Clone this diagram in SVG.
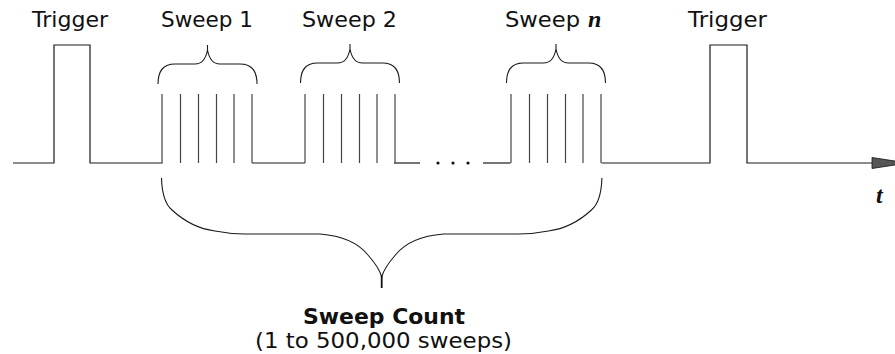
<svg xmlns="http://www.w3.org/2000/svg" xmlns:xlink="http://www.w3.org/1999/xlink" width="895" height="354" viewBox="0 0 895 354">
  <style>
    .wave { fill: none; stroke: #1a1a1a; stroke-width: 1.2; }
    .tick { stroke: #444; stroke-width: 1.2; }
    .brace { fill: none; stroke: #1a1a1a; stroke-width: 1.1; }
    .lbl { font-family: "DejaVu Sans", Verdana, sans-serif; font-size: 20.5px; fill: #111; }
    .bold { font-weight: bold; font-size: 22px; }
    .var { font-family: "Liberation Serif", "Times New Roman", serif; font-style: italic; font-weight: bold; font-size: 24px; fill: #111; }
  </style>
  <defs>
    <path id="smallBrace" d="M0,39 C0,27 4,19 17,19 H37 C44,19 48,13 49.5,5 V0 M99,39 C99,27 95,19 82,19 H62 C55,19 51,13 49.5,5"/>
    <g id="burst">
      <line x1="0" y1="94" x2="0" y2="163"/>
      <line x1="18.5" y1="94" x2="18.5" y2="163"/>
      <line x1="36.5" y1="94" x2="36.5" y2="163"/>
      <line x1="54.5" y1="94" x2="54.5" y2="163"/>
      <line x1="72" y1="94" x2="72" y2="163"/>
      <line x1="90" y1="94" x2="90" y2="163"/>
    </g>
  </defs>

  <g id="connectors">
    <path class="wave" d="M13,163 H54 V45 H90 V163 H162.5"/>
    <path class="wave" d="M252,163 H305"/>
    <path class="wave" d="M394,163 H420"/>
    <path class="wave" d="M483,163 H510.5"/>
    <path class="wave" d="M601.5,163 H710 V45 H747 V163 H873"/>
    <polygon points="872,157.5 896,161.2 896,164.8 872,168.5" fill="#555" stroke="#111" stroke-width="0.8"/>
    <circle cx="438" cy="163" r="1.6" fill="#111"/>
    <circle cx="453" cy="163" r="1.6" fill="#111"/>
    <circle cx="468" cy="163" r="1.6" fill="#111"/>
  </g>

  <g id="trigger1">
    <text class="lbl" x="32" y="27" textLength="76" lengthAdjust="spacingAndGlyphs">Trigger</text>
  </g>

  <g id="sweep1">
    <use xlink:href="#burst" class="tick" transform="translate(162,0)"/>
    <use xlink:href="#smallBrace" class="brace" transform="translate(158,45)"/>
    <text class="lbl" x="161" y="27" textLength="92" lengthAdjust="spacingAndGlyphs">Sweep 1</text>
  </g>

  <g id="sweep2">
    <use xlink:href="#burst" class="tick" transform="translate(305,0)"/>
    <use xlink:href="#smallBrace" class="brace" transform="translate(300.5,44)"/>
    <text class="lbl" x="302" y="27" textLength="95" lengthAdjust="spacingAndGlyphs">Sweep 2</text>
  </g>

  <g id="sweepN">
    <use xlink:href="#burst" class="tick" transform="translate(511,0)"/>
    <use xlink:href="#smallBrace" class="brace" transform="translate(506.5,44)"/>
    <text class="lbl" x="505" y="27" textLength="75" lengthAdjust="spacingAndGlyphs">Sweep</text>
    <text class="var" x="588" y="27">n</text>
  </g>

  <g id="trigger2">
    <text class="lbl" x="688" y="27" textLength="79" lengthAdjust="spacingAndGlyphs">Trigger</text>
  </g>

  <g id="time">
    <text class="var" x="876" y="203">t</text>
  </g>

  <g id="sweepCount">
    <path class="brace" d="M161.5,178 C162,195 166,205 172,210 C185,222 200,229 215,231 C225,233 235,234 245,234 H320 C345,236 360,245 368,255 C375,263 380,270 381.7,277 M601.9,178 C601.4,195 597.4,205 591.4,210 C578.4,222 563.4,229 548.4,231 C538.4,233 528.4,234 518.4,234 H443.4 C418.4,236 403.4,245 395.4,255 C388.4,263 383.4,270 381.7,277"/>
    <line x1="381.7" y1="276" x2="381.7" y2="288" stroke="#111" stroke-width="1.8"/>
    <text class="lbl bold" x="303" y="324" textLength="162" lengthAdjust="spacingAndGlyphs">Sweep Count</text>
    <text class="lbl" x="255" y="348" textLength="257" lengthAdjust="spacingAndGlyphs">(1 to 500,000 sweeps)</text>
  </g>
</svg>
